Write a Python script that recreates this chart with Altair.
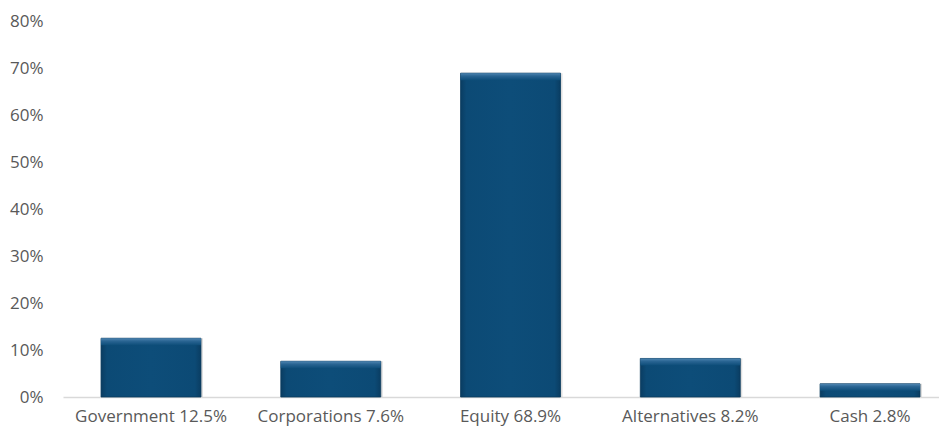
import altair as alt
import pandas as pd

categories = ["Government 12.5%", "Corporations 7.6%", "Equity 68.9%", "Alternatives 8.2%", "Cash 2.8%"]
values = [0.125, 0.076, 0.689, 0.082, 0.028]

df = pd.DataFrame({"category": categories, "value": values})

x = alt.X("category:N", sort=categories, title=None,
          scale=alt.Scale(paddingInner=0.444, paddingOuter=0.1586, align=0.667),
          axis=alt.Axis(labelAngle=0, ticks=False, domainColor="#d9d9d9", domainWidth=1.3,
                        labelFont="Open Sans", labelFontSize=17, labelColor="#595959",
                        labelPadding=11))
y = alt.Y("value:Q", title=None,
          scale=alt.Scale(domain=[0, 0.8], nice=False),
          axis=alt.Axis(format=".0%", values=[0, .1, .2, .3, .4, .5, .6, .7, .8],
                        grid=False, domain=False, ticks=False,
                        labelFont="Open Sans", labelFontSize=17, labelColor="#595959",
                        labelPadding=20))

base = alt.Chart(df)

shadow = base.mark_bar(color="#c8c8c8", opacity=0.6, xOffset=2).encode(x=x, y=y)
main = base.mark_bar(
    color=alt.Gradient(
        gradient="linear", x1=0, x2=1, y1=0, y2=0,
        stops=[alt.GradientStop(color="#0a3d62", offset=0),
               alt.GradientStop(color="#0c4a75", offset=0.06),
               alt.GradientStop(color="#0d4d79", offset=0.5),
               alt.GradientStop(color="#0c4a75", offset=0.94),
               alt.GradientStop(color="#0a3d62", offset=1)]),
    stroke="#0a3a5c", strokeWidth=0.8,
).encode(x=x, y=y)
top = base.mark_bar(
    color=alt.Gradient(
        gradient="linear", x1=0, x2=0, y1=0, y2=1,
        stops=[alt.GradientStop(color="#4f86b2", offset=0),
               alt.GradientStop(color="#2a6593", offset=0.4),
               alt.GradientStop(color="#0d4d79", offset=1)]),
    y2Offset=7,
).encode(x=x, y=y, y2="value:Q")

chart = alt.layer(shadow, main, top).properties(
    width=876, height=376,
    autosize=alt.AutoSizeParams(type="none"),
    padding={"left": 55, "top": 13, "right": 0, "bottom": 32},
).configure_view(stroke=None)

chart.save("out.html", embed_options={"renderer": "svg", "actions": False})
